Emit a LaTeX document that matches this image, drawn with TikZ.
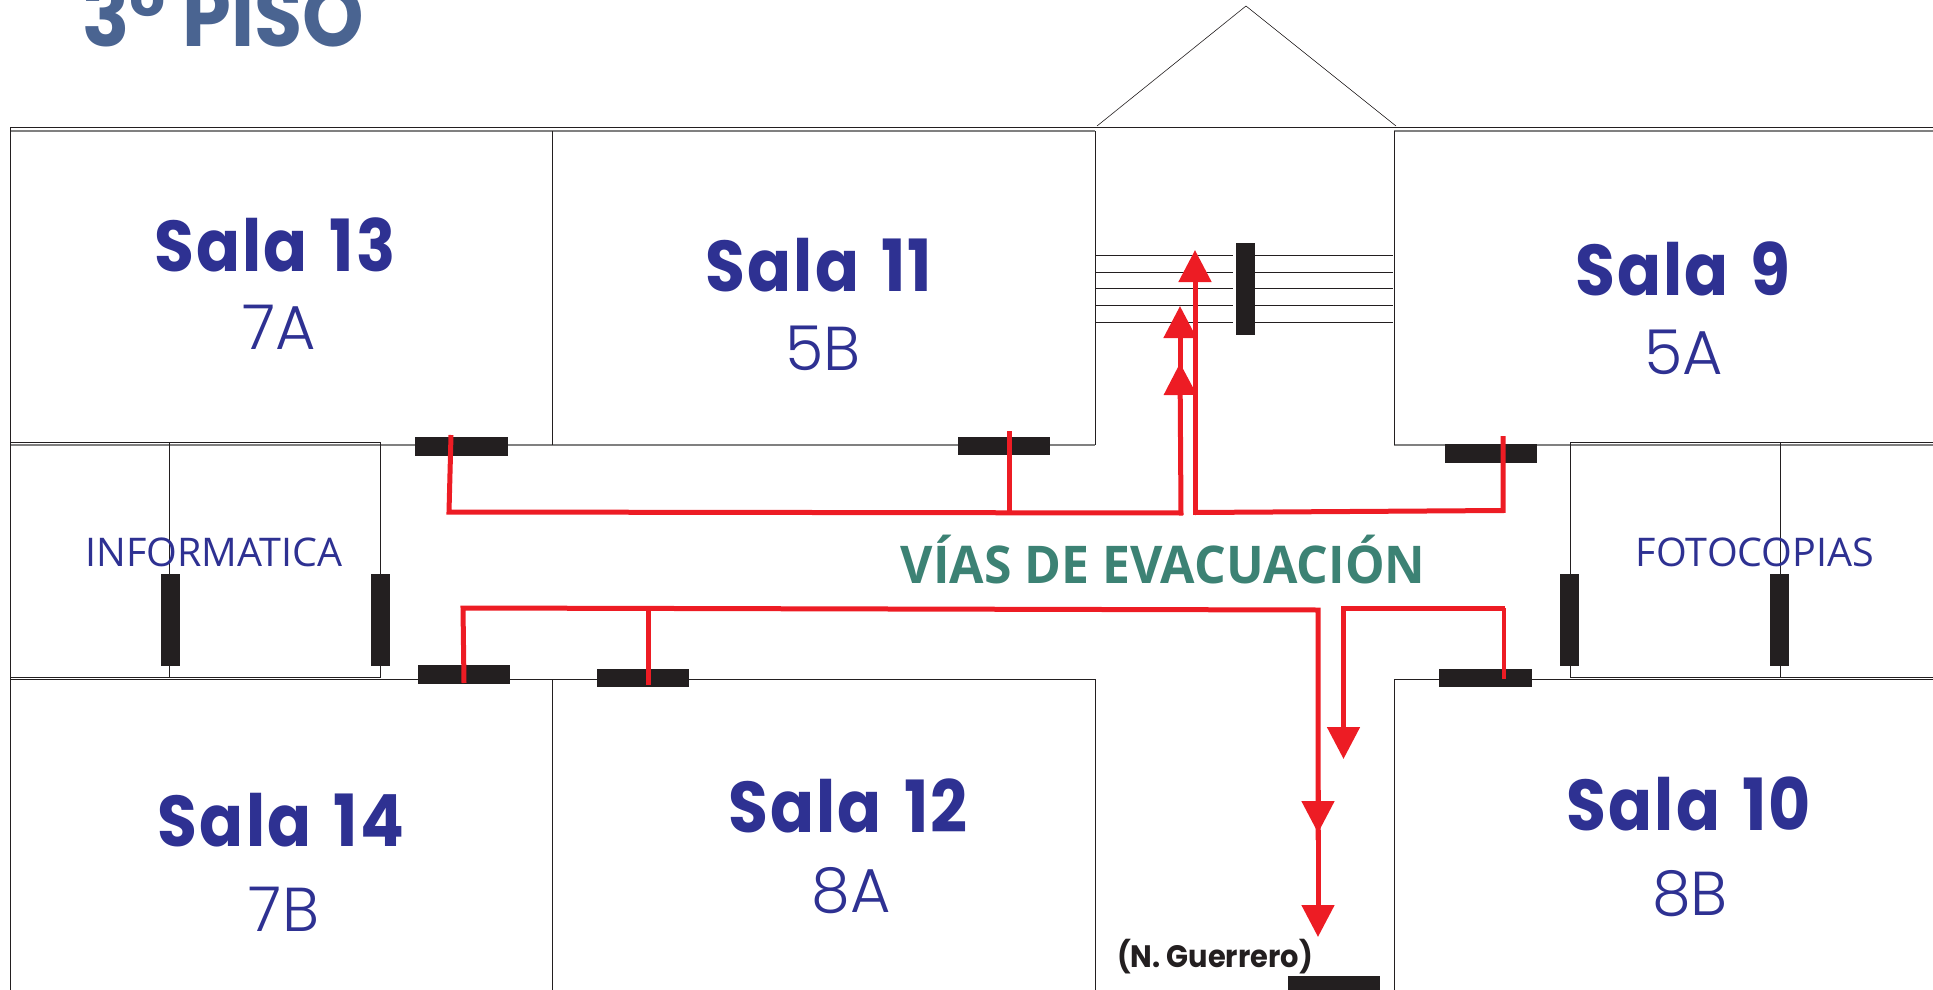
\documentclass[tikz,border=0pt]{standalone}
\usepackage{fontspec}
\usetikzlibrary{arrows.meta}
\setmainfont{Poppins}
\newfontfamily\pisofont[FakeStretch=0.91]{Poppins Bold}
\newfontfamily\salafont[FakeStretch=0.9,LetterSpace=3,WordSpace=1.4]{Poppins Bold}
\newfontfamily\lightfont{Poppins Light}
\newfontfamily\labelfont{Open Sans}
\newfontfamily\viafont[FakeStretch=0.96]{Open Sans Bold}
\newfontfamily\notefont[FakeStretch=0.93]{Poppins Bold}
\definecolor{salablue}{HTML}{2E3192}
\definecolor{exitred}{HTML}{ED1C24}
\definecolor{doorblack}{HTML}{231F20}
\definecolor{viagreen}{HTML}{3C8274}
\definecolor{pisoblue}{HTML}{4A6491}
\tikzset{
  wall/.style={doorblack, line width=0.8pt},
  softwall/.style={gray, line width=1.6pt},
  door/.style={fill=doorblack, draw=none},
  route/.style={exitred, line width=5pt},
  exitarrow/.style={route, -{Triangle[length=32pt,width=32pt]}},
  salaname/.style={anchor=base, inner sep=0, text=salablue, font=\salafont\fontsize{72}{72}\selectfont},
  salagroup/.style={anchor=base, inner sep=0, text=salablue, font=\lightfont\fontsize{62}{62}\selectfont},
  roomlabel/.style={anchor=base, inner sep=0, text=salablue, font=\labelfont\fontsize{39.5}{39.5}\selectfont}
}
\begin{document}
\begin{tikzpicture}[x=1pt,y=-1pt]
  \useasboundingbox (0,0) rectangle (1933,990);
  % outer walls
  \draw[wall] (10,127) -- (1933,127);
  \draw[softwall] (10,131) -- (1095,131);
  \draw[softwall] (1394,131) -- (1933,131);
  \draw[softwall] (10,445) -- (1095,445);
  \draw[softwall] (1394,445) -- (1933,445);
  \draw[wall] (10,127) -- (10,990);
  \draw[wall] (552,131) -- (552,445);
  \draw[wall] (1095,131) -- (1095,445);
  \draw[wall] (1394,131) -- (1394,445);
  \draw[wall] (10,679) -- (1095,679);
  \draw[wall] (1394,679) -- (1933,679);
  \draw[wall] (552,679) -- (552,990);
  \draw[wall] (1095,679) -- (1095,990);
  \draw[wall] (1394,679) -- (1394,990);
  % roof
  \draw[wall, line width=0.6pt] (1097,126) -- (1246,6) -- (1396,126);
  % side rooms
  \draw[wall] (10,442.5) -- (380.5,442.5) -- (380.5,677) -- (10,677);
  \draw[wall] (169,442.5) -- (169,677);
  \draw[wall] (1933,442.5) -- (1570,442.5) -- (1570,677) -- (1933,677);
  \draw[wall] (1780,442.5) -- (1780,677);
  % stairs
  \foreach \y in {255,272,288,305.5,322} {
    \draw[wall] (1095,\y) -- (1233,\y);
    \draw[wall] (1255,\y) -- (1393,\y);
  }
  % doors
  \fill[door] (415,437) rectangle (508,456);
  \fill[door] (958,437) rectangle (1050,455);
  \fill[door] (1445,444) rectangle (1537,463);
  \fill[door] (1236,243) rectangle (1255,335);
  \fill[door] (161,574) rectangle (180,666);
  \fill[door] (371,574) rectangle (390,666);
  \fill[door] (1560,574) rectangle (1579,666);
  \fill[door] (1770,574) rectangle (1789,666);
  \fill[door] (418,665) rectangle (510,684);
  \fill[door] (597,669) rectangle (689,687);
  \fill[door] (1439,669) rectangle (1532,687);
  \fill[door] (1288,976) rectangle (1380,990);
  % upper routes
  \draw[route] (451,435) -- (449,512) -- (1183,513);
  \draw[route] (1009,431) -- (1009,512);
  \draw[exitarrow] (1181,515) -- (1180,363);
  \draw[exitarrow] (1180,391) -- (1180,306);
  \draw[route] (1503,436) -- (1503,510.5) -- (1195,512.5);
  \draw[exitarrow] (1195,515) -- (1195,250);
  % lower routes
  \draw[route] (464,683) -- (463,608) -- (1318,610) -- (1318,840);
  \draw[route] (648,685) -- (648,608);
  \draw[exitarrow] (1318,790) -- (1318,833);
  \draw[exitarrow] (1318,830) -- (1318,937);
  \draw[route, line width=4pt] (1503.5,679) -- (1503.5,608);
  \draw[route] (1505,608) -- (1343.5,608) -- (1343.5,730);
  \draw[exitarrow] (1343.5,720) -- (1343.5,759);
  % texts
  \node[anchor=base west, inner sep=0, text=pisoblue, font=\pisofont\fontsize{86}{86}\selectfont] (piso) at (82,47) {3° PISO};
  \node[salaname] (sala13) at (275,271) {Sala 13};
  \node[salagroup] (group7a) at (279,349) {7A};
  \node[salaname] (sala11) at (819,291) {Sala 11};
  \node[salagroup] (group5b) at (823,370) {5B};
  \node[salaname] (sala9) at (1683,295) {Sala 9};
  \node[salagroup] (group5a) at (1684,374) {5A};
  \node[salaname] (sala14) at (281,846) {Sala 14};
  \node[salagroup] (group7b) at (284,931) {7B};
  \node[salaname] (sala12) at (848,832) {Sala 12};
  \node[salagroup] (group8a) at (851,912) {8A};
  \node[salaname] (sala10) at (1689,830) {Sala 10};
  \node[salagroup] (group8b) at (1690,915) {8B};
  \node[roomlabel] (informatica) at (214,566) {INFORMATICA};
  \node[roomlabel] (fotocopias) at (1755,566) {FOTOCOPIAS};
  \node[anchor=base, inner sep=0, text=viagreen, font=\viafont\fontsize{52}{52}\selectfont] (vias) at (1163,583) {VÍAS DE EVACUACIÓN};
  \node[anchor=base, inner sep=0, text=doorblack, font=\notefont\fontsize{31}{31}\selectfont] (guerrero) at (1215,967) {(N. Guerrero)};
\end{tikzpicture}
\end{document}
